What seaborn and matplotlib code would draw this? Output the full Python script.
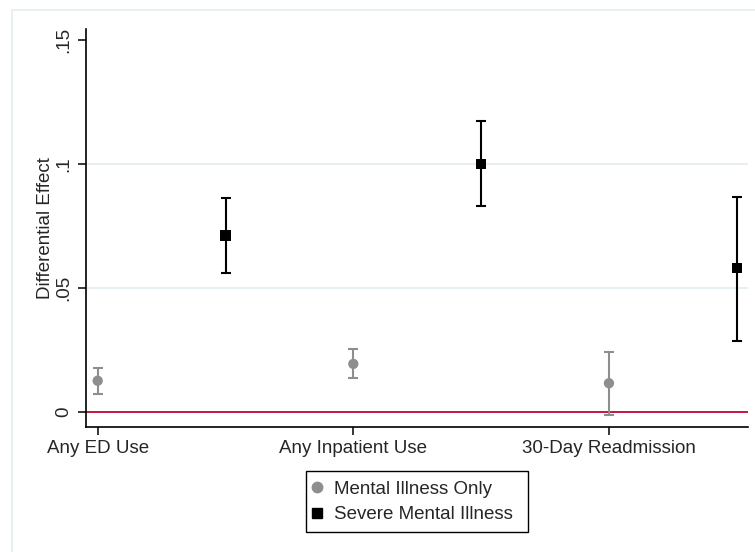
import numpy as np
import pandas as pd
import matplotlib
matplotlib.use("Agg")
import matplotlib.pyplot as plt
import seaborn as sns
from matplotlib.patches import Rectangle
from matplotlib.lines import Line2D

# values
outcomes = ["Any ED Use", "Any Inpatient Use", "30-Day Readmission"]
groups = ["Mental Illness Only", "Severe Mental Illness"]

mi_est = [0.0125, 0.0193, 0.0115]
mi_lo = [0.0073, 0.0135, -0.0013]
mi_hi = [0.0175, 0.0252, 0.0242]

smi_est = [0.0711, 0.1000, 0.0579]
smi_lo = [0.0559, 0.0830, 0.0287]
smi_hi = [0.0862, 0.1173, 0.0868]

y_ticks = [0, 0.05, 0.10, 0.15]
y_tick_labels = ["0", ".05", ".1", ".15"]

# long table for seaborn
rows = []
for i, out in enumerate(outcomes):
    rows.append((out, groups[0], 2 * i, mi_est[i], mi_lo[i], mi_hi[i]))
    rows.append((out, groups[1], 2 * i + 1, smi_est[i], smi_lo[i], smi_hi[i]))
df = pd.DataFrame(rows, columns=["outcome", "group", "xpos", "est", "lo", "hi"])

colors = {groups[0]: "#8e8e8e", groups[1]: "#000000"}
markers = {groups[0]: "o", groups[1]: "s"}

sns.set_style("white")
plt.rcParams["font.family"] = ["Liberation Sans", "DejaVu Sans"]

W, H = 755, 552
fig = plt.figure(figsize=(W / 100, H / 100), dpi=100)
fig.patch.set_facecolor("white")

# faint outer graph-region frame, as in Stata output
fig.patches.append(Rectangle((12 / W, -0.05), 1.1, (H - 10) / H + 0.05,
                             transform=fig.transFigure, fill=False,
                             edgecolor="#e4eef0", linewidth=1.2, zorder=0))

ax = fig.add_axes([86 / W, (H - 427.3) / H, (748 - 86) / W, (427.3 - 29.3) / H])

for yv in [0.05, 0.10]:
    ax.axhline(yv, color="#e4eef0", linewidth=1.3, zorder=0)
ax.axhline(0, color="#c8163f", linewidth=1.4, zorder=1)

for g in groups:
    sub = df[df["group"] == g]
    ax.errorbar(sub["xpos"], sub["est"],
                yerr=[sub["est"] - sub["lo"], sub["hi"] - sub["est"]],
                fmt="none", ecolor=colors[g], elinewidth=1.5,
                capsize=3.8, capthick=1.5, zorder=2)

sns.scatterplot(data=df, x="xpos", y="est", hue="group", style="group",
                palette=colors, markers=markers, s=55, edgecolor="none",
                legend=False, ax=ax, zorder=3)

ax.set_xlim(-0.0915, 5.088)
ax.set_ylim(-0.0063, 0.1544)
ax.set_xticks([2 * i for i in range(len(outcomes))])
ax.set_xticklabels(outcomes)
ax.set_yticks(y_ticks)
ax.set_yticklabels(y_tick_labels, rotation=90, va="center")
ax.set_xlabel("")
ax.set_ylabel("Differential Effect", fontsize=13.5, labelpad=1)

ax.tick_params(axis="both", which="major", labelsize=13.5, length=6,
               width=1.1, color="black", direction="out")
ax.tick_params(axis="y", pad=4)
ax.tick_params(axis="x", pad=3)
ax.yaxis.set_ticks_position("left")
ax.xaxis.set_ticks_position("bottom")

for side in ["top", "right"]:
    ax.spines[side].set_visible(False)
for side in ["left", "bottom"]:
    ax.spines[side].set_color("black")
    ax.spines[side].set_linewidth(1.2)

# legend: entries without frame, box drawn separately
handles = [Line2D([], [], linestyle="none", marker=markers[g], color=colors[g],
                  markersize=7.5) for g in groups]
leg = fig.legend(handles, groups, loc="center left",
                 bbox_to_anchor=(309 / W, 1 - 502 / H),
                 fontsize=13.5, frameon=False,
                 handletextpad=0.56, handlelength=0.8,
                 borderpad=0, labelspacing=0.46, borderaxespad=0)
fig.patches.append(Rectangle((306 / W, 1 - 531.7 / H), 222 / W, 61 / H,
                             transform=fig.transFigure, fill=False,
                             edgecolor="black", linewidth=1.0, zorder=5))

fig.savefig("out.png", dpi=100, facecolor="white")
